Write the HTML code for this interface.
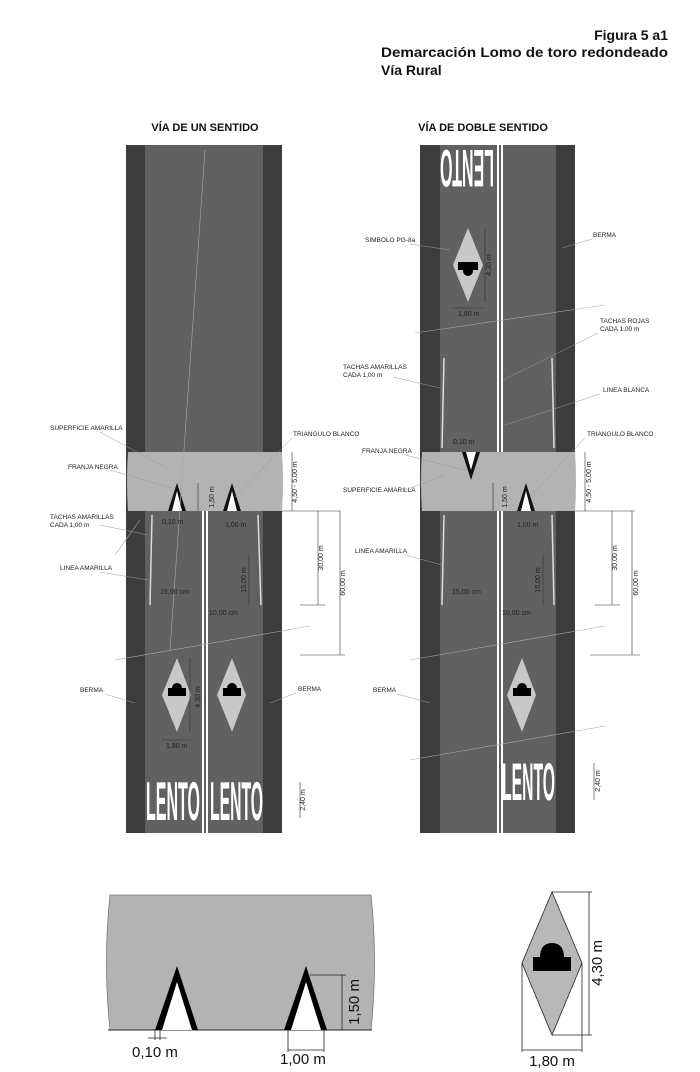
<!DOCTYPE html>
<html><head><meta charset="utf-8"><style>
body{margin:0;background:#fff;}
svg{display:block;font-family:"Liberation Sans",Arial,sans-serif;}
.s{font-size:6.5px;fill:#222;}
.d{font-size:7px;fill:#222;}
.L{font-family:"Liberation Sans",sans-serif;font-weight:bold;fill:#fff;font-size:22px;}
</style></head><body>
<svg width="700" height="1072" viewBox="0 0 700 1072" xmlns="http://www.w3.org/2000/svg">
<rect width="700" height="1072" fill="#fff"/>
<g font-weight="bold" fill="#111" font-size="14">
<text x="668" y="40" text-anchor="end">Figura 5 a1</text>
<text x="381" y="57" textLength="287" lengthAdjust="spacingAndGlyphs">Demarcación Lomo de toro redondeado</text>
<text x="381" y="75">Vía Rural</text>
</g>
<text x="205" y="131" font-weight="bold" font-size="11" text-anchor="middle" fill="#111">VÍA DE UN SENTIDO</text>
<text x="483" y="131" font-weight="bold" font-size="11" text-anchor="middle" fill="#111">VÍA DE DOBLE SENTIDO</text>

<!-- LEFT ROAD -->
<rect x="126" y="145" width="156" height="688" fill="#3c3c3c"/>
<rect x="145" y="145" width="118" height="688" fill="#616161"/>
<rect x="202" y="511" width="2" height="322" fill="#fff"/><rect x="206" y="511" width="2" height="322" fill="#fff"/>
<path d="M128 452 H282 Q284 481 282 511 H128 Q126 481 128 452Z" fill="#b3b3b3"/>
<polygon points="177,483 168,511 186,511" fill="#111"/><polygon points="177,491 172,511 182,511" fill="#fff"/>
<polygon points="232,483 223,511 241,511" fill="#111"/><polygon points="232,491 227,511 237,511" fill="#fff"/>
<path d="M152 515 L150 605" stroke="#ddd" stroke-width="1.5" fill="none"/>
<path d="M258 515 L261 605" stroke="#ddd" stroke-width="1.5" fill="none"/>
<g stroke="#aaa" stroke-width="0.6" fill="none">
<line x1="115" y1="660" x2="310" y2="626"/><line x1="115" y1="555" x2="140" y2="520"/>
<line x1="205" y1="150" x2="170" y2="650"/>
</g>
<g fill="#c8c8c8">
<polygon points="177,658 191,695 177,732 162,695"/><polygon points="232,658 246,695 232,732 217,695"/>
</g>
<g fill="#000">
<rect x="168" y="688" width="18" height="8"/><circle cx="177" cy="688" r="5"/>
<rect x="223" y="688" width="18" height="8"/><circle cx="232" cy="688" r="5"/>
</g>
<text class="L" transform="translate(146,820) scale(1,2.5)" textLength="54" lengthAdjust="spacingAndGlyphs">LENTO</text>
<text class="L" transform="translate(210,820) scale(1,2.5)" textLength="53" lengthAdjust="spacingAndGlyphs">LENTO</text>

<!-- RIGHT ROAD -->
<rect x="420" y="145" width="155" height="688" fill="#3c3c3c"/>
<rect x="440" y="145" width="116" height="688" fill="#616161"/>
<rect x="497" y="145" width="2" height="688" fill="#fff"/><rect x="501" y="145" width="2" height="688" fill="#fff"/>
<path d="M422 452 H575 Q577 481 575 511 H422 Q420 481 422 452Z" fill="#b3b3b3"/>
<polygon points="462,452 480,452 471,480" fill="#111"/><polygon points="466,452 476,452 471,470" fill="#fff"/>
<polygon points="526,483 517,511 535,511" fill="#111"/><polygon points="526,491 521,511 531,511" fill="#fff"/>
<path d="M444 358 L442 448" stroke="#ddd" stroke-width="1.5" fill="none"/>
<path d="M552 358 L554 448" stroke="#ddd" stroke-width="1.5" fill="none"/>
<path d="M444 515 L442 605" stroke="#ddd" stroke-width="1.5" fill="none"/>
<path d="M552 515 L554 605" stroke="#ddd" stroke-width="1.5" fill="none"/>
<g stroke="#aaa" stroke-width="0.6" fill="none">
<line x1="410" y1="660" x2="605" y2="626"/><line x1="410" y1="760" x2="605" y2="726"/>
<line x1="415" y1="333" x2="605" y2="305"/>
</g>
<polygon points="468,228 483,265 468,302 453,265" fill="#c8c8c8"/>
<rect x="458" y="262" width="20" height="8" fill="#000"/><circle cx="468" cy="271" r="5" fill="#000"/>
<polygon points="522,658 536,695 522,732 507,695" fill="#c8c8c8"/>
<rect x="513" y="688" width="18" height="8" fill="#000"/><circle cx="522" cy="688" r="5" fill="#000"/>
<text class="L" transform="translate(502,800) scale(1,2.4)" textLength="53" lengthAdjust="spacingAndGlyphs">LENTO</text>
<text class="L" transform="translate(494,150) rotate(180) scale(1,2.4)" textLength="54" lengthAdjust="spacingAndGlyphs">LENTO</text>

<!-- dimension lines -->
<g stroke="#333" stroke-width="0.6" fill="none">
<line x1="292" y1="452" x2="292" y2="511"/><line x1="282" y1="511" x2="340" y2="511"/>
<line x1="318" y1="511" x2="318" y2="605"/><line x1="340" y1="511" x2="340" y2="655"/>
<line x1="300" y1="605" x2="325" y2="605"/><line x1="300" y1="655" x2="345" y2="655"/>
<line x1="300" y1="782" x2="300" y2="818"/>
<line x1="585" y1="452" x2="585" y2="511"/><line x1="575" y1="511" x2="635" y2="511"/>
<line x1="612" y1="511" x2="612" y2="605"/><line x1="632" y1="511" x2="632" y2="655"/>
<line x1="595" y1="605" x2="620" y2="605"/><line x1="590" y1="655" x2="640" y2="655"/>
<line x1="594" y1="763" x2="594" y2="800"/>
<line x1="190" y1="658" x2="190" y2="732"/><line x1="162" y1="740" x2="191" y2="740"/>
<line x1="485" y1="228" x2="485" y2="302"/><line x1="453" y1="308" x2="483" y2="308"/>
<line x1="249" y1="555" x2="249" y2="605"/><line x1="543" y1="555" x2="543" y2="605"/>
<line x1="198" y1="483" x2="198" y2="511"/><line x1="493" y1="483" x2="493" y2="511"/>
</g>
<g class="d">
<text transform="translate(297,482) rotate(-90)" text-anchor="middle">4,50 - 5,00 m</text>
<text transform="translate(591,482) rotate(-90)" text-anchor="middle">4,50 - 5,00 m</text>
<text transform="translate(323,558) rotate(-90)" text-anchor="middle">30,00 m</text>
<text transform="translate(617,558) rotate(-90)" text-anchor="middle">30,00 m</text>
<text transform="translate(345,583) rotate(-90)" text-anchor="middle">60,00 m</text>
<text transform="translate(638,583) rotate(-90)" text-anchor="middle">60,00 m</text>
<text transform="translate(305,800) rotate(-90)" text-anchor="middle">2,40 m</text>
<text transform="translate(600,781) rotate(-90)" text-anchor="middle">2,40 m</text>
<text transform="translate(246,580) rotate(-90)" text-anchor="middle">15,00 m</text>
<text transform="translate(540,580) rotate(-90)" text-anchor="middle">15,00 m</text>
<text transform="translate(200,697) rotate(-90)" text-anchor="middle">4,30 m</text>
<text transform="translate(491,265) rotate(-90)" text-anchor="middle">4,30 m</text>
<text transform="translate(214,497) rotate(-90)" text-anchor="middle">1,50 m</text>
<text transform="translate(507,497) rotate(-90)" text-anchor="middle">1,50 m</text>
<text x="162" y="524">0,10 m</text><text x="225" y="527">1,00 m</text>
<text x="453" y="444">0,10 m</text><text x="517" y="527">1,00 m</text>
<text x="160" y="594">15,00 cm</text><text x="452" y="594">15,00 cm</text>
<text x="209" y="615">10,00 cm</text><text x="502" y="615">10,00 cm</text>
<text x="166" y="748">1,80 m</text><text x="458" y="316">1,80 m</text>
</g>
<!-- labels -->
<g class="s">
<text x="50" y="430">SUPERFICIE AMARILLA</text>
<text x="68" y="469">FRANJA NEGRA</text>
<text x="50" y="519">TACHAS AMARILLAS</text><text x="50" y="527">CADA  1,00 m</text>
<text x="60" y="570">LINEA AMARILLA</text>
<text x="80" y="692">BERMA</text>
<text x="293" y="436">TRIANGULO BLANCO</text>
<text x="298" y="691">BERMA</text>
<text x="365" y="242">SIMBOLO PG-8a</text>
<text x="593" y="237">BERMA</text>
<text x="600" y="323">TACHAS ROJAS</text><text x="600" y="331">CADA 1,00 m</text>
<text x="343" y="369">TACHAS AMARILLAS</text><text x="343" y="377">CADA  1,00 m</text>
<text x="603" y="392">LINEA BLANCA</text>
<text x="587" y="436">TRIANGULO BLANCO</text>
<text x="362" y="453">FRANJA NEGRA</text>
<text x="343" y="492">SUPERFICIE AMARILLA</text>
<text x="355" y="553">LINEA AMARILLA</text>
<text x="373" y="692">BERMA</text>
</g>
<g stroke="#999" stroke-width="0.5" fill="none">
<line x1="100" y1="432" x2="170" y2="470"/><line x1="110" y1="470" x2="172" y2="488"/>
<line x1="100" y1="525" x2="148" y2="535"/><line x1="100" y1="572" x2="148" y2="580"/>
<line x1="105" y1="694" x2="135" y2="703"/><line x1="292" y1="438" x2="235" y2="497"/>
<line x1="296" y1="693" x2="270" y2="703"/>
<line x1="410" y1="244" x2="450" y2="250"/><line x1="592" y1="239" x2="562" y2="248"/>
<line x1="598" y1="333" x2="503" y2="380"/><line x1="393" y1="377" x2="440" y2="388"/>
<line x1="600" y1="394" x2="505" y2="425"/><line x1="585" y1="438" x2="530" y2="497"/>
<line x1="405" y1="455" x2="465" y2="470"/><line x1="405" y1="490" x2="445" y2="475"/>
<line x1="405" y1="555" x2="442" y2="565"/><line x1="397" y1="694" x2="430" y2="703"/>
</g>

<!-- BOTTOM DETAIL -->
<path d="M110 895 H371 Q378 962 371 1030 H110 Q103 962 110 895Z" fill="#b3b3b3" stroke="#777" stroke-width="0.8"/>
<line x1="108" y1="1030" x2="372" y2="1030" stroke="#222" stroke-width="1"/>
<polygon points="177,966 155,1030 198,1030" fill="#000"/><polygon points="177,982 162,1030 192,1030" fill="#fff"/>
<polygon points="306,966 284,1030 327,1030" fill="#000"/><polygon points="306,982 291,1030 321,1030" fill="#fff"/>
<g stroke="#222" stroke-width="0.8" fill="none">
<line x1="310" y1="975" x2="346" y2="975"/><line x1="342" y1="975" x2="342" y2="1030"/>
<line x1="288" y1="1030" x2="288" y2="1052"/><line x1="324" y1="1030" x2="324" y2="1052"/>
<line x1="288" y1="1050" x2="324" y2="1050"/>
<line x1="155" y1="1030" x2="155" y2="1040"/><line x1="160" y1="1030" x2="160" y2="1040"/>
<line x1="148" y1="1038" x2="167" y2="1038"/>
</g>
<text x="132" y="1057" font-size="15" fill="#111">0,10 m</text>
<text x="280" y="1064" font-size="15" fill="#111">1,00   m</text>
<text transform="translate(359,1002) rotate(-90)" text-anchor="middle" font-size="15" fill="#111">1,50 m</text>

<polygon points="552,892 582,963 552,1035 522,963" fill="#b8b8b8" stroke="#222" stroke-width="0.8"/>
<rect x="533" y="957" width="38" height="14" fill="#000"/>
<path d="M540 958 Q540 943 552 943 Q564 943 564 958Z" fill="#000"/>
<g stroke="#222" stroke-width="0.8" fill="none">
<line x1="552" y1="892" x2="592" y2="892"/><line x1="552" y1="1035" x2="592" y2="1035"/>
<line x1="589" y1="892" x2="589" y2="1035"/>
<line x1="522" y1="963" x2="522" y2="1052"/><line x1="582" y1="963" x2="582" y2="1052"/>
<line x1="522" y1="1050" x2="582" y2="1050"/>
</g>
<text transform="translate(602,963) rotate(-90)" text-anchor="middle" font-size="15" fill="#111">4,30 m</text>
<text x="552" y="1066" text-anchor="middle" font-size="15" fill="#111">1,80 m</text>
</svg>
</body></html>
